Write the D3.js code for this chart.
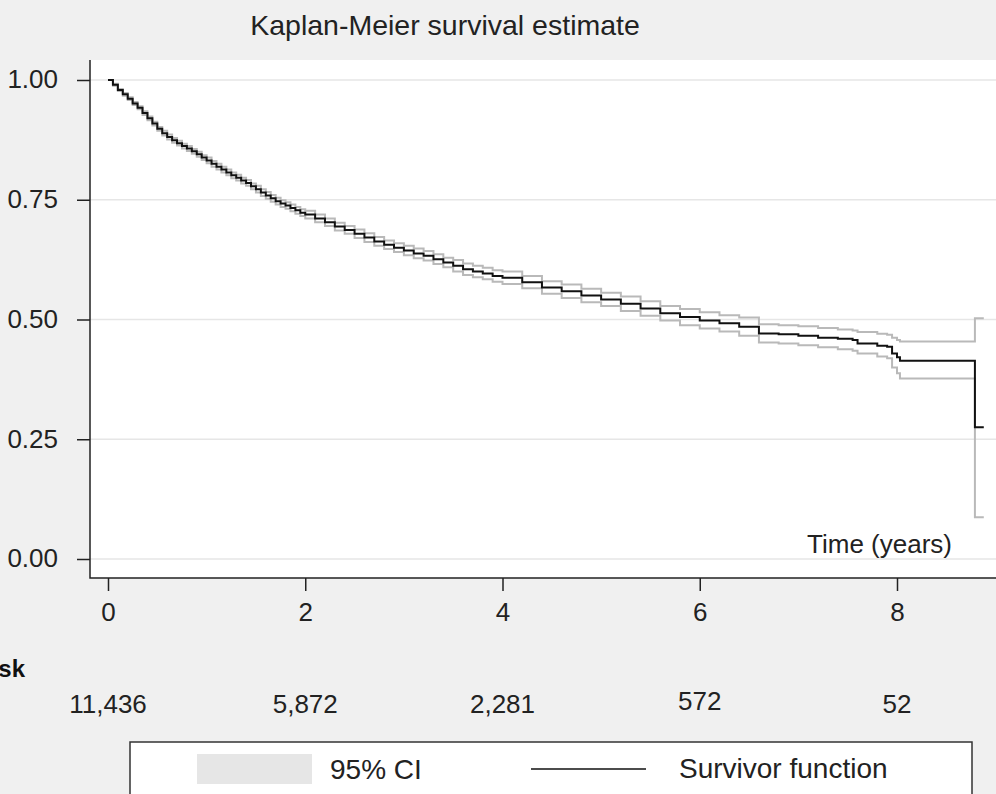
<!DOCTYPE html>
<html>
<head>
<meta charset="utf-8">
<script src="https://cdn.jsdelivr.net/npm/d3@7"></script>
<style>
  html, body { margin: 0; padding: 0; background: #f0f0f0; }
  svg { display: block; font-family: "Liberation Sans", Arial, sans-serif; }
  .axis text { fill: #222; }
</style>
</head>
<body>
<svg id="chart" width="996" height="794"></svg>
<script>
// Kaplan-Meier estimate
const time = [
  0, 0.05, 0.1, 0.15, 0.2, 0.25, 0.3, 0.35, 0.4, 0.45,
  0.5, 0.55, 0.6, 0.65, 0.7, 0.75, 0.8, 0.85, 0.9, 0.95,
  1.0, 1.05, 1.1, 1.15, 1.2, 1.25, 1.3, 1.35, 1.4, 1.45,
  1.5, 1.55, 1.6, 1.65, 1.7, 1.75, 1.8, 1.85, 1.9, 1.95,
  2.0, 2.1, 2.2, 2.3, 2.4, 2.5, 2.6, 2.7, 2.8, 2.9,
  3.0, 3.1, 3.2, 3.3, 3.4, 3.5, 3.6, 3.7, 3.8, 3.9,
  4.0, 4.2, 4.4, 4.6, 4.8, 5.0, 5.2, 5.4, 5.6, 5.8,
  6.0, 6.2, 6.4, 6.6, 6.8, 7.0, 7.2, 7.4, 7.55, 7.6,
  7.8, 7.9, 7.95, 8.0, 8.03, 8.79, 8.88
];
const survival = [
  1.000, 0.990, 0.979, 0.970, 0.961, 0.951, 0.942, 0.931, 0.920, 0.909,
  0.898, 0.889, 0.881, 0.874, 0.868, 0.862, 0.857, 0.851, 0.845, 0.838,
  0.832, 0.825, 0.819, 0.813, 0.807, 0.801, 0.796, 0.790, 0.785, 0.778,
  0.772, 0.765, 0.759, 0.753, 0.747, 0.742, 0.738, 0.733, 0.728, 0.723,
  0.719, 0.711, 0.703, 0.694, 0.687, 0.679, 0.671, 0.663, 0.656, 0.650,
  0.644, 0.638, 0.633, 0.626, 0.619, 0.612, 0.605, 0.600, 0.596, 0.591,
  0.587, 0.578, 0.567, 0.559, 0.550, 0.542, 0.533, 0.523, 0.513, 0.505,
  0.498, 0.492, 0.485, 0.471, 0.469, 0.466, 0.462, 0.460, 0.457, 0.450,
  0.445, 0.443, 0.429, 0.421, 0.414, 0.275, 0.275
];
const ciLower = [
  1.000, 0.988, 0.977, 0.967, 0.958, 0.948, 0.939, 0.927, 0.916, 0.905,
  0.894, 0.884, 0.876, 0.869, 0.863, 0.857, 0.852, 0.846, 0.840, 0.833,
  0.826, 0.819, 0.813, 0.807, 0.801, 0.795, 0.790, 0.784, 0.779, 0.772,
  0.765, 0.758, 0.752, 0.746, 0.740, 0.735, 0.731, 0.726, 0.721, 0.716,
  0.711, 0.703, 0.695, 0.686, 0.679, 0.670, 0.662, 0.654, 0.647, 0.641,
  0.634, 0.628, 0.623, 0.616, 0.609, 0.600, 0.593, 0.588, 0.584, 0.579,
  0.574, 0.565, 0.554, 0.545, 0.536, 0.528, 0.518, 0.508, 0.498, 0.488,
  0.481, 0.475, 0.466, 0.452, 0.450, 0.446, 0.442, 0.438, 0.435, 0.429,
  0.423, 0.419, 0.400, 0.388, 0.377, 0.087, 0.087
];
const ciUpper = [
  1.000, 0.992, 0.981, 0.973, 0.964, 0.954, 0.945, 0.935, 0.924, 0.913,
  0.902, 0.894, 0.886, 0.879, 0.873, 0.867, 0.862, 0.856, 0.850, 0.843,
  0.838, 0.831, 0.825, 0.819, 0.813, 0.807, 0.802, 0.796, 0.791, 0.784,
  0.779, 0.772, 0.766, 0.760, 0.754, 0.749, 0.745, 0.740, 0.735, 0.730,
  0.727, 0.719, 0.711, 0.702, 0.695, 0.688, 0.680, 0.672, 0.665, 0.659,
  0.654, 0.648, 0.643, 0.636, 0.629, 0.624, 0.617, 0.612, 0.608, 0.603,
  0.600, 0.591, 0.580, 0.573, 0.564, 0.556, 0.548, 0.538, 0.528, 0.522,
  0.515, 0.509, 0.504, 0.490, 0.488, 0.486, 0.482, 0.479, 0.477, 0.474,
  0.470, 0.468, 0.462, 0.457, 0.454, 0.5025, 0.5025
];

const xTicks = [0, 2, 4, 6, 8];
const yTicks = [0, 0.25, 0.5, 0.75, 1];
const riskTimes = [0, 2, 4, 6, 8];
const atRisk = [11436, 5872, 2281, 572, 52];

const svg = d3.select("#chart");
const ink = "#222";

const plot = {left: 90, top: 60, right: 1000, bottom: 578};

const x = d3.scaleLinear().domain([0, 8]).range([108, 897]);
const y = d3.scaleLinear().domain([0, 1]).range([559, 80]);

// title
svg.append("text")
  .attr("x", 445).attr("y", 35)
  .attr("text-anchor", "middle")
  .attr("font-size", 28.5)
  .attr("fill", ink)
  .text("Kaplan-Meier survival estimate");

// plot region
svg.append("rect")
  .attr("x", plot.left).attr("y", plot.top)
  .attr("width", plot.right - plot.left).attr("height", plot.bottom - plot.top)
  .attr("fill", "#fff");

// grid
svg.append("g").selectAll("line")
  .data(yTicks).join("line")
  .attr("x1", plot.left).attr("x2", plot.right)
  .attr("y1", d => y(d)).attr("y2", d => y(d))
  .attr("stroke", "#e6e6e6").attr("stroke-width", 1.5);

// y axis
const yAxis = d3.axisLeft(y)
  .tickValues(yTicks)
  .tickFormat(d3.format(".2f"))
  .tickSize(13)
  .tickPadding(19)
  .tickSizeOuter(0);
const yG = svg.append("g").attr("class", "axis")
  .attr("transform", `translate(${plot.left},0)`)
  .call(yAxis);
yG.select(".domain").remove();
yG.selectAll(".tick line").attr("stroke", ink).attr("stroke-width", 1.5);
yG.selectAll(".tick text").attr("font-size", 26).attr("dy", "0.3em");

// x axis
const xAxis = d3.axisBottom(x)
  .tickValues(xTicks)
  .tickFormat(d3.format("d"))
  .tickSize(13)
  .tickPadding(12)
  .tickSizeOuter(0);
const xG = svg.append("g").attr("class", "axis")
  .attr("transform", `translate(0,${plot.bottom})`)
  .call(xAxis);
xG.select(".domain").remove();
xG.selectAll(".tick line").attr("stroke", ink).attr("stroke-width", 1.5);
xG.selectAll(".tick text").attr("font-size", 26);

// frame (left and bottom)
svg.append("path")
  .attr("d", `M${plot.left},${plot.top}V${plot.bottom}H${plot.right}`)
  .attr("fill", "none").attr("stroke", ink).attr("stroke-width", 1.5);

// curves
const idx = d3.range(time.length);
const stepLine = arr => d3.line()
  .x(i => x(time[i]))
  .y(i => y(arr[i]))
  .curve(d3.curveStepAfter);

[ciLower, ciUpper].forEach(arr => {
  svg.append("path")
    .datum(idx)
    .attr("d", stepLine(arr))
    .attr("fill", "none")
    .attr("stroke", "#b9b9b9")
    .attr("stroke-width", 2);
});

svg.append("path")
  .datum(idx)
  .attr("d", stepLine(survival))
  .attr("fill", "none")
  .attr("stroke", "#111")
  .attr("stroke-width", 2);

// axis title inside plot
svg.append("text")
  .attr("x", 952).attr("y", 553)
  .attr("text-anchor", "end")
  .attr("font-size", 26)
  .attr("fill", ink)
  .text("Time (years)");

// number at risk
svg.append("text")
  .attr("x", 25).attr("y", 677)
  .attr("text-anchor", "end")
  .attr("font-size", 24)
  .attr("font-weight", "bold")
  .attr("fill", "#111")
  .text("Number at risk");

svg.append("g").selectAll("text")
  .data(riskTimes).join("text")
  .attr("x", d => x(d))
  .attr("y", (d, i) => i === 3 ? 710 : 713)
  .attr("text-anchor", "middle")
  .attr("font-size", 26)
  .attr("fill", ink)
  .text((d, i) => d3.format(",")(atRisk[i]));

// legend
const lg = svg.append("g");
lg.append("rect")
  .attr("x", 130).attr("y", 742)
  .attr("width", 842).attr("height", 80)
  .attr("fill", "#fff")
  .attr("stroke", "#333").attr("stroke-width", 1.5);
lg.append("rect")
  .attr("x", 197).attr("y", 754)
  .attr("width", 115).attr("height", 30)
  .attr("fill", "#e6e6e6");
lg.append("text")
  .attr("x", 330).attr("y", 779)
  .attr("font-size", 28).attr("fill", ink)
  .text("95% CI");
lg.append("line")
  .attr("x1", 531).attr("x2", 646)
  .attr("y1", 769).attr("y2", 769)
  .attr("stroke", "#111").attr("stroke-width", 1.5);
lg.append("text")
  .attr("x", 679).attr("y", 778)
  .attr("font-size", 28).attr("fill", ink)
  .text("Survivor function");
</script>
</body>
</html>
